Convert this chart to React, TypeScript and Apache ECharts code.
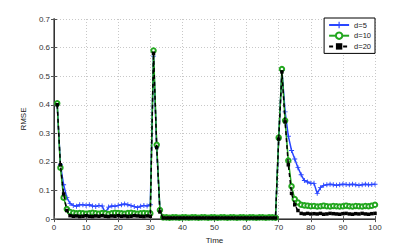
import React, { useEffect, useRef } from "react";
import * as echarts from "echarts";

const times: number[] = Array.from({ length: 100 }, (_, i) => i + 1);

const d5: number[] = [
  0.40, 0.19, 0.12, 0.075, 0.055, 0.048, 0.045, 0.05, 0.05, 0.048,
  0.05, 0.046, 0.044, 0.048, 0.046, 0.022, 0.042, 0.046, 0.045, 0.048,
  0.05, 0.053, 0.05, 0.047, 0.044, 0.04, 0.045, 0.048, 0.046, 0.05,
  0.57, 0.25, 0.03, 0.006, 0.005, 0.005, 0.006, 0.005, 0.004, 0.005,
  0.005, 0.006, 0.005, 0.005, 0.004, 0.005, 0.006, 0.005, 0.005, 0.005,
  0.004, 0.005, 0.006, 0.005, 0.005, 0.005, 0.004, 0.005, 0.006, 0.005,
  0.005, 0.004, 0.005, 0.005, 0.006, 0.005, 0.005, 0.004, 0.005, 0.28,
  0.52, 0.375, 0.29, 0.24, 0.21, 0.18, 0.155, 0.135, 0.13, 0.125,
  0.125, 0.09, 0.11, 0.118, 0.12, 0.122, 0.12, 0.118, 0.12, 0.122,
  0.121, 0.12, 0.122, 0.12, 0.118, 0.12, 0.122, 0.12, 0.121, 0.122,
];

const d10: number[] = [
  0.405, 0.18, 0.075, 0.035, 0.025, 0.022, 0.02, 0.021, 0.02, 0.019,
  0.02, 0.022, 0.02, 0.019, 0.021, 0.02, 0.018, 0.02, 0.022, 0.021,
  0.02, 0.019, 0.021, 0.022, 0.02, 0.019, 0.02, 0.021, 0.02, 0.02,
  0.59, 0.26, 0.032, 0.006, 0.006, 0.005, 0.006, 0.006, 0.005, 0.006,
  0.006, 0.005, 0.006, 0.006, 0.005, 0.006, 0.006, 0.005, 0.006, 0.006,
  0.005, 0.006, 0.006, 0.005, 0.006, 0.006, 0.005, 0.006, 0.006, 0.005,
  0.006, 0.006, 0.005, 0.006, 0.006, 0.005, 0.006, 0.006, 0.005, 0.285,
  0.525, 0.345, 0.205, 0.115, 0.07, 0.058, 0.05, 0.048, 0.047, 0.045,
  0.046, 0.044, 0.045, 0.047, 0.045, 0.044, 0.046, 0.045, 0.044, 0.045,
  0.047, 0.045, 0.044, 0.046, 0.045, 0.044, 0.046, 0.045, 0.047, 0.05,
];

const d20: number[] = [
  0.40, 0.19, 0.088, 0.03, 0.012, 0.01, 0.011, 0.009, 0.01, 0.012,
  0.01, 0.009, 0.011, 0.01, 0.012, 0.01, 0.009, 0.011, 0.01, 0.012,
  0.01, 0.011, 0.009, 0.01, 0.012, 0.011, 0.01, 0.009, 0.011, 0.01,
  0.58, 0.25, 0.025, 0.004, 0.004, 0.004, 0.004, 0.004, 0.004, 0.004,
  0.004, 0.004, 0.004, 0.004, 0.004, 0.004, 0.004, 0.004, 0.004, 0.004,
  0.004, 0.004, 0.004, 0.004, 0.004, 0.004, 0.004, 0.004, 0.004, 0.004,
  0.004, 0.004, 0.004, 0.004, 0.004, 0.004, 0.004, 0.004, 0.004, 0.28,
  0.515, 0.34, 0.19, 0.09, 0.05, 0.03, 0.02, 0.018, 0.02, 0.018,
  0.019, 0.018, 0.02, 0.017, 0.018, 0.02, 0.019, 0.018, 0.017, 0.019,
  0.02, 0.018, 0.017, 0.019, 0.018, 0.02, 0.018, 0.017, 0.019, 0.02,
];

const seriesNames: string[] = ["d=5", "d=10", "d=20"];
const xTicks: number[] = [0, 10, 20, 30, 40, 50, 60, 70, 80, 90, 100];

const FONT = "Liberation Sans";
const plus = "path://M-0.18,-1H0.18V-0.18H1V0.18H0.18V1H-0.18V0.18H-1V-0.18H-0.18Z";

export default function App() {
  const ref = useRef<HTMLDivElement>(null);
  useEffect(() => {
    if (!ref.current) return;
    const chart = echarts.init(ref.current, undefined, { renderer: "svg" });
    const pair = (arr: number[]) => arr.map((v, i) => [times[i], v]);
    chart.setOption({
      animation: false,
      backgroundColor: "#ffffff",
      grid: { left: 54, right: 40, top: 19, bottom: 28 },
      legend: {
        right: 40,
        top: 18,
        orient: "vertical",
        backgroundColor: "#ffffff",
        borderColor: "#000000",
        borderWidth: 1,
        borderRadius: 0,
        padding: [3, 4, 3, 4],
        itemGap: 2.5,
        itemWidth: 20,
        itemHeight: 8,
        textStyle: { fontFamily: FONT, fontSize: 7.5, color: "#222" },
        data: seriesNames,
      },
      xAxis: [
        {
          type: "value",
          min: 0,
          max: 100,
          interval: 10,
          name: "Time",
          nameLocation: "middle",
          nameGap: 13,
          nameTextStyle: { fontFamily: FONT, fontSize: 8, color: "#222" },
          axisLine: { show: true, lineStyle: { color: "#888", width: 2 } },
          axisTick: { show: true, inside: true, length: 3, lineStyle: { color: "#555" } },
          axisLabel: {
            fontFamily: FONT,
            fontSize: 8,
            color: "#333",
            margin: 4,
            formatter: (v: number) => (xTicks.includes(v) ? String(v) : ""),
          },
          splitLine: { show: true, lineStyle: { color: "#c8c8c8", type: [1, 2], width: 1 } },
        },
        {
          type: "value",
          position: "top",
          min: 0,
          max: 100,
          interval: 10,
          axisLine: { show: true, lineStyle: { color: "#333", width: 1 } },
          axisTick: { show: true, inside: true, length: 3, lineStyle: { color: "#555" } },
          axisLabel: { show: false },
          splitLine: { show: false },
        },
      ],
      yAxis: [
        {
          type: "value",
          min: 0,
          max: 0.7,
          interval: 0.1,
          name: "RMSE",
          nameLocation: "middle",
          nameGap: 17,
          nameTextStyle: { fontFamily: FONT, fontSize: 8, color: "#222" },
          axisLine: { show: true, lineStyle: { color: "#888", width: 2 } },
          axisTick: { show: true, inside: true, length: 3, lineStyle: { color: "#555" } },
          axisLabel: {
            fontFamily: FONT,
            fontSize: 8,
            color: "#333",
            margin: 4,
            formatter: (v: number) => (Math.round(v * 10) / 10).toString(),
          },
          splitLine: { show: true, lineStyle: { color: "#c8c8c8", type: [1, 2], width: 1 } },
        },
        {
          type: "value",
          position: "right",
          min: 0,
          max: 0.7,
          interval: 0.1,
          axisLine: { show: true, lineStyle: { color: "#333", width: 1 } },
          axisTick: { show: true, inside: true, length: 3, lineStyle: { color: "#555" } },
          axisLabel: { show: false },
          splitLine: { show: false },
        },
      ],
      series: [
        {
          name: seriesNames[0],
          type: "line",
          data: pair(d5),
          symbol: plus,
          symbolSize: 5,
          showAllSymbol: true,
          lineStyle: { color: "#2a46ff", width: 1.5 },
          itemStyle: { color: "#2a46ff" },
          z: 2,
        },
        {
          name: seriesNames[1],
          type: "line",
          data: pair(d10),
          symbol: "emptyCircle",
          symbolSize: 4.5,
          showAllSymbol: true,
          lineStyle: { color: "#22a61e", width: 1.5 },
          itemStyle: { color: "#22a61e", borderWidth: 1.2, borderColor: "#22a61e" },
          z: 3,
        },
        {
          name: seriesNames[2],
          type: "line",
          data: pair(d20),
          symbol: "rect",
          symbolSize: 3.5,
          showAllSymbol: true,
          lineStyle: { color: "#000000", width: 1.5, type: [4, 3] },
          itemStyle: { color: "#000000" },
          z: 4,
        },
      ],
    });
    return () => chart.dispose();
  }, []);
  return (
    <div
      ref={ref}
      style={{ position: "fixed", left: 0, top: 0, width: 415, height: 249, background: "#fff" }}
    />
  );
}
